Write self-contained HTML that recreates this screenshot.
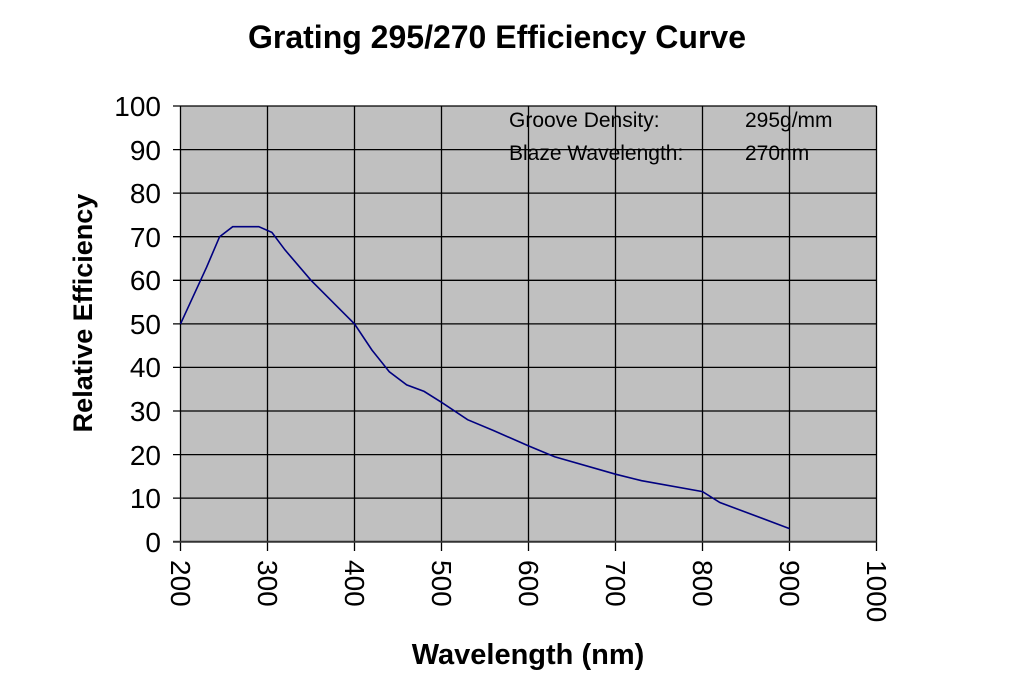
<!DOCTYPE html>
<html><head><style>body{margin:0;background:#fff}</style></head><body>
<svg width="1030" height="687" xmlns="http://www.w3.org/2000/svg" font-family="Liberation Sans, Arial, sans-serif">
<rect width="1030" height="687" fill="#fff"/>
<text x="497" y="48" text-anchor="middle" font-size="32" font-weight="bold">Grating 295/270 Efficiency Curve</text>
<rect x="180.5" y="106" width="696" height="435.7" fill="#c0c0c0"/>
<g stroke="#000" stroke-width="1.3">
<line x1="173" y1="106" x2="876.5" y2="106"/><line x1="173" y1="149.6" x2="876.5" y2="149.6"/><line x1="173" y1="193.1" x2="876.5" y2="193.1"/><line x1="173" y1="236.7" x2="876.5" y2="236.7"/><line x1="173" y1="280.3" x2="876.5" y2="280.3"/><line x1="173" y1="323.9" x2="876.5" y2="323.9"/><line x1="173" y1="367.4" x2="876.5" y2="367.4"/><line x1="173" y1="411" x2="876.5" y2="411"/><line x1="173" y1="454.6" x2="876.5" y2="454.6"/><line x1="173" y1="498.1" x2="876.5" y2="498.1"/>
<line x1="180.5" y1="106" x2="180.5" y2="551"/><line x1="267.5" y1="106" x2="267.5" y2="551"/><line x1="354.5" y1="106" x2="354.5" y2="551"/><line x1="441.5" y1="106" x2="441.5" y2="551"/><line x1="528.5" y1="106" x2="528.5" y2="551"/><line x1="615.5" y1="106" x2="615.5" y2="551"/><line x1="702.5" y1="106" x2="702.5" y2="551"/><line x1="789.5" y1="106" x2="789.5" y2="551"/><line x1="876.5" y1="106" x2="876.5" y2="551"/>
</g>
<line x1="173" y1="541.7" x2="876.5" y2="541.7" stroke="#333" stroke-width="2"/>
<polyline fill="none" stroke="#000080" stroke-width="1.6" points="180.5,323.9 206.6,267.2 219.6,236.7 232.7,226.7 258.8,226.7 271.9,232.4 284.9,249.8 311,280.3 345.8,315.2 354.5,323.9 371.9,350 389.3,371.8 406.7,384.9 424.1,391.4 441.5,402.3 467.6,419.7 493.7,430.6 528.5,445.9 554.6,456.8 615.5,474.2 641.6,480.7 702.5,491.6 719.9,502.5 789.5,528.6"/>
<g font-size="28" text-anchor="end">
<text x="161" y="116">100</text><text x="161" y="160">90</text><text x="161" y="203">80</text><text x="161" y="247">70</text><text x="161" y="290">60</text><text x="161" y="334">50</text><text x="161" y="377">40</text><text x="161" y="421">30</text><text x="161" y="465">20</text><text x="161" y="508">10</text><text x="161" y="552">0</text>
</g>
<g font-size="28">
<text transform="translate(171,560) rotate(90)">200</text>
<text transform="translate(258,560) rotate(90)">300</text>
<text transform="translate(345,560) rotate(90)">400</text>
<text transform="translate(432,560) rotate(90)">500</text>
<text transform="translate(519,560) rotate(90)">600</text>
<text transform="translate(606,560) rotate(90)">700</text>
<text transform="translate(693,560) rotate(90)">800</text>
<text transform="translate(780,560) rotate(90)">900</text>
<text transform="translate(867,560) rotate(90)">1000</text>
</g>
<text x="528" y="664" text-anchor="middle" font-size="29" font-weight="bold">Wavelength (nm)</text>
<text transform="translate(92,313) rotate(-90)" text-anchor="middle" font-size="27" font-weight="bold">Relative Efficiency</text>
<g font-size="21">
<text x="509" y="127">Groove Density:</text><text x="745" y="127">295g/mm</text>
<text x="509" y="160">Blaze Wavelength:</text><text x="745" y="160">270nm</text>
</g>
</svg>
</body></html>
